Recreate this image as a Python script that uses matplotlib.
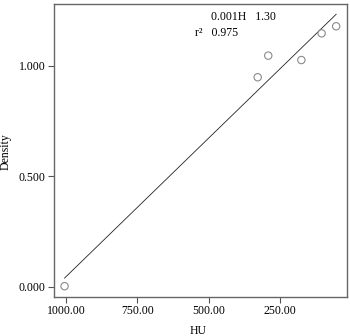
import numpy as np
import matplotlib
matplotlib.use("Agg")
import matplotlib.pyplot as plt

# HU vs density scatter with fit line
hu = [-1005, -328, -291, -175, -104, -53]
density = [0.002, 0.949, 1.047, 1.027, 1.148, 1.180]
slope = 0.001256
intercept = 1.301

xticks = [-1000, -750, -500, -250]
xticklabels = ["1000.00", "750.00", "500.00", "250.00"]
yticks = [0.0, 0.5, 1.0]
yticklabels = ["0.000", "0.500", "1.000"]

plt.rcParams['font.family'] = ['Liberation Serif']
fig = plt.figure(figsize=(3.5, 3.36), dpi=100)
ax = fig.add_axes([54 / 350, 1 - 297 / 336, 293 / 350, 293 / 336])

xl = np.array([min(hu), max(hu)])
ax.plot(xl, slope * xl + intercept, color="#222222", lw=0.6)
ax.scatter(hu, density, s=28, facecolors="none", edgecolors="#8a8a8a", linewidths=0.8, zorder=3)

ax.set_xlim(-1042, -15)
ax.set_ylim(-0.047, 1.281)
ax.set_xticks(xticks)
ax.set_xticklabels(xticklabels, fontsize=8.5)
ax.set_yticks(yticks)
ax.set_yticklabels(yticklabels, fontsize=8.5)
ax.tick_params(direction="out", length=4, width=0.8, color="#555555", pad=2)
for sp in ax.spines.values():
    sp.set_color("#666666")
    sp.set_linewidth(1.0)

ax.text(-493, 1.224, "0.001H   1.30", fontsize=8.5, va="center")
ax.text(-548, 1.149, "r²   0.975", fontsize=8.5, va="center")

fig.text(198 / 350, 1 - 331 / 336, "HU", fontsize=8.5, ha="center", va="center")
fig.text(6 / 350, 1 - 152 / 336, "Density", fontsize=8.5, rotation=90, ha="center", va="center")

fig.savefig("out.png", dpi=100, facecolor="white")
